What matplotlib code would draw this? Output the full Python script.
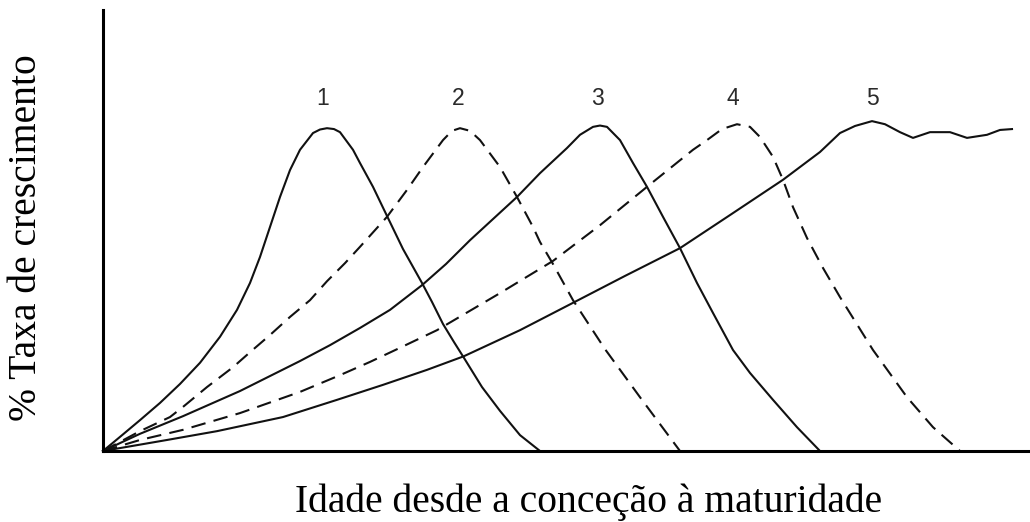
import matplotlib
matplotlib.use("Agg")
import matplotlib.pyplot as plt

# ---------------------------------------------------------------
# data (x: age, arbitrary units; y: % of axis)
# ---------------------------------------------------------------
x1 = [0, 1.7, 3.7, 5.7, 7.7, 9.7, 11.7, 13.4, 14.7, 15.7, 16.7, 17.7, 18.7, 19.7,
      21.0, 21.7, 22.4, 23.1, 23.7, 25.0, 25.7, 27.0, 28.4, 30.0, 31.9, 32.9,
      34.0, 35.1, 36.1, 37.9, 39.7, 41.7, 43.7]
y1 = [0, 3.2, 7.0, 10.9, 15.2, 20.0, 25.9, 32.0, 38.1, 44.0, 50.8, 57.6, 63.7, 68.3,
      72.1, 72.9, 73.2, 73.0, 72.3, 68.3, 65.3, 59.9, 53.3, 45.8, 38.1, 33.8,
      28.8, 24.7, 21.1, 14.5, 9.1, 3.6, 0]

x2 = [0, 3.7, 6.7, 8.0, 10.4, 13.0, 14.7, 16.7, 18.7, 20.7, 22.4, 24.2, 25.7, 28.4,
      30.4, 32.0, 34.0, 34.9, 35.7, 36.7, 37.7, 39.7, 41.4, 43.0, 43.7, 45.0,
      47.0, 50.2, 53.7, 55.7, 57.7]
y2 = [0, 4.5, 7.7, 10.0, 14.5, 19.0, 22.4, 26.3, 30.4, 34.2, 38.5, 42.6, 46.3, 53.1,
      59.2, 64.4, 70.5, 72.6, 73.2, 72.6, 70.5, 64.4, 57.6, 50.8, 47.4, 42.4,
      34.2, 23.1, 12.2, 6.1, 0]

x3 = [0, 3.7, 8.0, 13.7, 19.7, 22.7, 25.7, 28.7, 31.9, 34.3, 36.7, 41.4, 43.7, 46.4,
      47.7, 49.0, 49.7, 50.4, 51.7, 53.0, 54.4, 56.0, 57.7, 59.4, 61.0, 63.0,
      64.7, 67.0, 69.4, 71.7]
y3 = [0, 3.9, 7.9, 13.6, 20.4, 24.0, 27.9, 32.0, 37.6, 42.4, 47.8, 57.6, 63.0, 68.7,
      71.7, 73.5, 73.8, 73.5, 70.5, 65.3, 59.9, 53.1, 46.0, 38.1, 31.3, 22.9,
      17.7, 11.6, 5.4, 0]

x4 = [0, 3.7, 8.0, 13.7, 19.7, 23.7, 26.7, 29.7, 33.4, 39.7, 45.0, 49.7, 54.4, 59.0,
      60.4, 61.9, 63.4, 64.7, 65.7, 67.0, 68.0, 69.0, 70.4, 72.0, 73.7, 77.0,
      80.4, 83.0, 85.7]
y4 = [0, 2.5, 4.8, 8.6, 13.4, 17.2, 20.2, 23.4, 27.4, 35.8, 43.1, 51.2, 59.9, 68.3,
      70.5, 73.0, 74.1, 73.5, 71.2, 66.7, 61.5, 55.3, 48.3, 41.5, 34.9, 22.9,
      12.2, 5.4, 0]

x5 = [0, 6.4, 11.4, 18.0, 23.4, 28.0, 32.4, 36.1, 41.7, 47.0, 52.2, 57.7, 62.7, 68.0,
      71.7, 73.7, 75.2, 76.9, 78.2, 79.7, 81.0, 82.7, 84.7, 86.4, 88.4, 89.7, 90.9]
y5 = [0, 2.5, 4.5, 7.7, 11.6, 15.0, 18.4, 21.5, 27.4, 33.6, 39.7, 46.0, 53.5, 61.5,
      67.8, 72.1, 73.7, 74.8, 74.1, 72.3, 71.0, 72.3, 72.3, 71.0, 71.7, 72.8, 73.0]

curve_labels = ["1", "2", "3", "4", "5"]
label_x = [22.0, 35.5, 49.4, 63.0, 76.9]
label_y = 80.0

xs = [x1, x2, x3, x4, x5]
ys = [y1, y2, y3, y4, y5]
styles = ["-", (0, (7, 4)), "-", (0, (7, 4)), "-"]

# ---------------------------------------------------------------
# plot
# ---------------------------------------------------------------
fig = plt.figure(figsize=(10.3, 5.22), dpi=100)
ax = fig.add_axes([103 / 1030, 71 / 522, 927 / 1030, 441 / 522])

for i in range(5):
    ax.plot(xs[i], ys[i], color="#111111", linewidth=1.5, linestyle=styles[i],
            solid_joinstyle="round", dash_joinstyle="round", clip_on=False)
    ax.text(label_x[i], label_y, curve_labels[i], ha="center", va="center",
            fontsize=16.5, color="#2a2a2a", family="Liberation Sans")

ax.set_xlim(0, 92.7)
ax.set_ylim(0, 100)
ax.spines["top"].set_visible(False)
ax.spines["right"].set_visible(False)
ax.spines["left"].set_linewidth(2.2)
ax.spines["bottom"].set_linewidth(2.2)
ax.set_xticks([])
ax.set_yticks([])

fig.text(589 / 1030, 1 - 502 / 522, "Idade desde a conceção à maturidade",
         ha="center", va="center", fontsize=28.5, family="Liberation Serif")
fig.text(27 / 1030, 1 - 238 / 522, "% Taxa de crescimento", rotation=90,
         ha="center", va="center", fontsize=28.5, family="Liberation Serif")

plt.savefig("out.png", dpi=100)
